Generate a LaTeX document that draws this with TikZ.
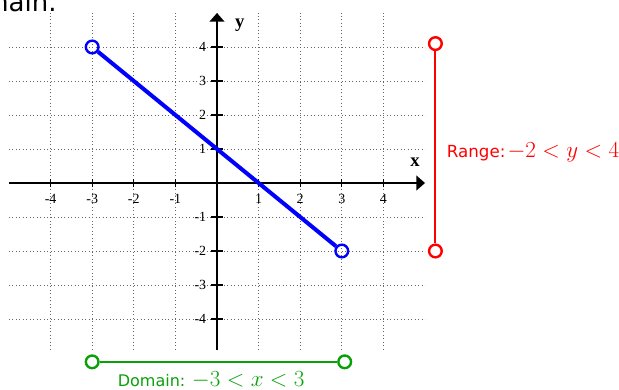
\documentclass[tikz,border=0pt]{standalone}
\usepackage{fontspec}
\setmainfont{Liberation Serif}
\newfontfamily\labelfont{DejaVu Sans}
\usetikzlibrary{arrows.meta}

\definecolor{plotblue}{RGB}{0,0,255}
\definecolor{rangered}{RGB}{255,0,0}
\definecolor{domaingreen}{RGB}{10,160,10}

\tikzset{
  gridline/.style={black!60, dotted, line width=0.6pt},
  axisline/.style={black, line width=2pt, -{Triangle[length=6.5pt,width=11pt]}},
  tickmark/.style={black, line width=1pt},
  ticklabel/.style={font=\fontsize{10.5}{12}\selectfont, inner sep=1pt},
  openpt/.style={circle, draw, line width=1.8pt, minimum size=9.5pt, inner sep=0pt},
}

\begin{document}
\begin{tikzpicture}[x=31.2pt, y=25.5pt]
    \useasboundingbox (-5.216,-6.088) rectangle (9.663,5.382);
    \clip (-5.216,-6.088) rectangle (9.663,5.382);

    % cut-off caption at the top
    \node[anchor=base east, inner sep=0pt,
        font=\labelfont\fontsize{19.5}{22}\selectfont]
        (caption) at (-3.85,5.03) {main.};

    % grid
    \foreach \k in {-4,...,4} {
        \draw[gridline] (\k,-4.9) -- (\k,5);
        \draw[gridline] (-5,\k) -- (5,\k);
    }

    % axes
    \coordinate (xstart) at (-5,0);
    \coordinate (xend) at (5,0);
    \coordinate (ystart) at (0,-4.9);
    \coordinate (yend) at (0,5);
    \draw[axisline] (xstart) -- (xend);
    \draw[axisline] (ystart) -- (yend);

    \node[font=\bfseries\fontsize{14}{16}\selectfont] (xlabel) at (4.76,0.62) {x};
    \node[font=\bfseries\fontsize{14}{16}\selectfont] (ylabel) at (0.55,4.65) {y};

    \foreach \k in {-4,-3,-2,-1,1,2,3,4} {
        \draw[tickmark] (\k,-0.13) -- (\k,0.13);
        \draw[tickmark] (-0.15,\k) -- (0.15,\k);
        \node[ticklabel] (xt\k) at (\k,-0.46) {\k};
        \node[ticklabel, anchor=east] (yt\k) at (-0.22,\k) {\k};
    }

    % the segment
    \node[openpt, draw=plotblue] (left) at (-3,4) {};
    \node[openpt, draw=plotblue] (right) at (3,-2) {};
    \draw[plotblue, line width=3pt] (left) -- (right);

    % range
    \node[openpt, draw=rangered] (rtop) at (5.25,4.1) {};
    \node[openpt, draw=rangered] (rbot) at (5.25,-2) {};
    \draw[rangered, line width=1.5pt] (rtop) -- (rbot);
    \node[anchor=west, text=rangered, inner sep=0pt] (rangelabel) at (5.52,0.9)
        {{\labelfont\fontsize{12.5}{15}\selectfont Range:}\,%
         {\fontsize{16.3}{19}\selectfont $-2<y<4$}};

    % domain
    \node[openpt, draw=domaingreen] (dleft) at (-3,-5.26) {};
    \node[openpt, draw=domaingreen] (dright) at (3.07,-5.26) {};
    \draw[domaingreen, line width=1.5pt] (dleft) -- (dright);
    \node[text=domaingreen, inner sep=0pt] (domainlabel) at (-0.14,-5.8)
        {{\labelfont\fontsize{12}{14}\selectfont Domain:}\ \ %
         {\fontsize{16}{19}\selectfont $-3<x<3$}};
\end{tikzpicture}
\end{document}
